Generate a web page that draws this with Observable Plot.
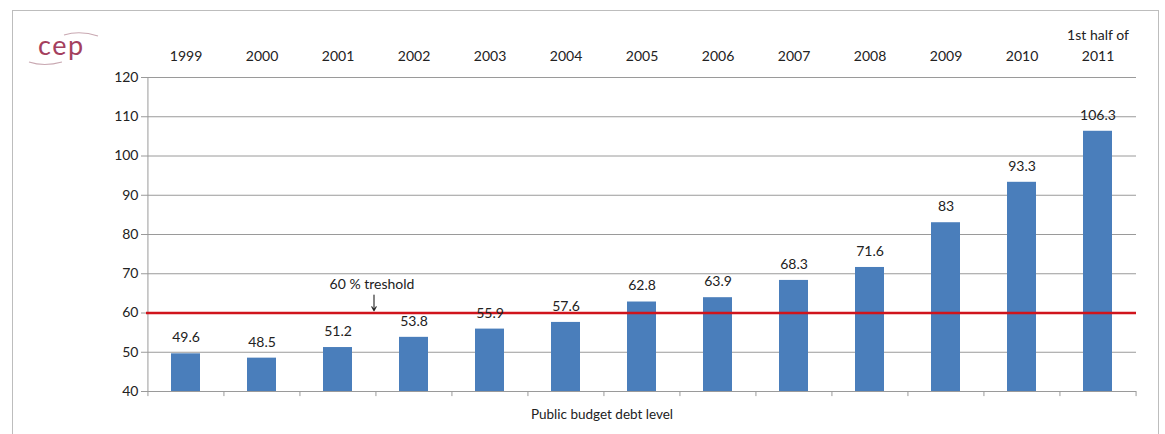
<!DOCTYPE html>
<html>
<head>
<meta charset="utf-8">
<script src="https://cdn.jsdelivr.net/npm/d3@7"></script>
<script src="https://cdn.jsdelivr.net/npm/@observablehq/plot@0.6"></script>
<style>
  html, body { margin: 0; padding: 0; background: #fff; overflow: hidden; }
  body { width: 1165px; height: 434px; position: relative; font-family: Lato, "Open Sans", sans-serif; }
  #frame { position: absolute; left: 12px; top: 10px; width: 1147px; height: 440px; border: 1px solid #bdbdbd; box-sizing: border-box; }
  #chart { position: absolute; left: 0; top: 0; }
  #xlabel { position: absolute; top: 406px; left: 0; width: 1204px; text-align: center; font-size: 13.5px; color: #222; }
  #logo { position: absolute; left: 26px; top: 27px; }
</style>
</head>
<body>
<div id="frame"></div>
<div id="chart"></div>
<div id="logo">
  <svg width="90" height="44">
    <path d="M 38 8 Q 54 3 72 9" fill="none" stroke="#c9a9b2" stroke-width="1.2"/>
    <path d="M 3 35 Q 18 40 36 35" fill="none" stroke="#c9a9b2" stroke-width="1.2"/>
    <text x="12" y="28" font-size="27" fill="#a4405e" font-family="Lato, 'Open Sans', sans-serif" letter-spacing="1.5">cep</text>
  </svg>
</div>
<div id="xlabel">Public budget debt level</div>
<script>
const categories = ["1999","2000","2001","2002","2003","2004","2005","2006","2007","2008","2009","2010","1st half of\n2011"];
const debtValues = [49.6, 48.5, 51.2, 53.8, 55.9, 57.6, 62.8, 63.9, 68.3, 71.6, 83, 93.3, 106.3];
const yTicks = [40, 50, 60, 70, 80, 90, 100, 110, 120];
const thresholdValue = 60;
const thresholdLabel = "60 % treshold";

const data = categories.map((c, i) => ({cat: c, value: debtValues[i]}));

const W = 1165, H = 434;
const mL = 146, mR = 29, mT = 77, mB = 43;
const step = (W - mL - mR) / categories.length;
const lastCat = categories[categories.length - 1];

const chart = Plot.plot({
  width: W,
  height: H,
  marginLeft: mL,
  marginRight: mR,
  marginTop: mT,
  marginBottom: mB,
  style: {fontFamily: "Lato, 'Open Sans', sans-serif", fontSize: "14px", color: "#222", background: "transparent"},
  x: {domain: categories, paddingInner: 0.62, paddingOuter: 0.31, align: 0.5},
  y: {domain: [40, 120]},
  marks: [
    Plot.ruleY(yTicks, {stroke: "#9a9a9a", strokeWidth: 1}),
    Plot.ruleX([categories[0]], {y1: 40, y2: 120, dx: -step / 2, stroke: "#9a9a9a"}),
    Plot.ruleX(categories, {y1: 40, y2: 38.7, dx: -step / 2, stroke: "#9a9a9a"}),
    Plot.ruleX([lastCat], {y1: 40, y2: 38.7, dx: step / 2, stroke: "#9a9a9a"}),
    Plot.axisY({ticks: yTicks, tickSize: 5, tickPadding: 3, stroke: "#9a9a9a", label: null, fontSize: 14}),
    Plot.axisX({anchor: "top", tickSize: 0, tickPadding: 17, label: null, fontSize: 14, lineHeight: 1.45}),
    Plot.barY(data, {x: "cat", y1: 40, y2: "value", fill: "#4a7ebb"}),
    Plot.ruleY([thresholdValue], {stroke: "#d0141c", strokeWidth: 2.5}),
    Plot.text(data, {x: "cat", y: "value", text: d => String(d.value), dy: -16, fontSize: 14, fill: "#222"}),
    Plot.text([thresholdLabel], {x: () => "2002", y: 67.2, text: d => d, dx: -42, fontSize: 14, fill: "#222"}),
    Plot.arrow([0], {x1: () => "2002", x2: () => "2002", y1: 64.6, y2: 60.6, dx: -40, stroke: "#222", strokeWidth: 1.1, headLength: 6})
  ]
});
document.getElementById("chart").appendChild(chart);
</script>
</body>
</html>
